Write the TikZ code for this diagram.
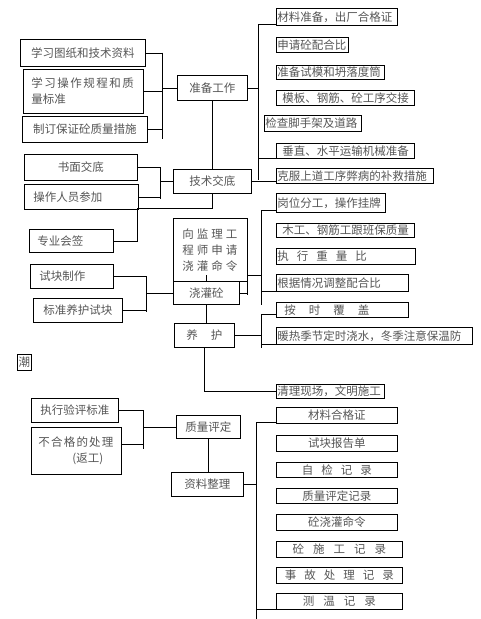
\documentclass[tikz,border=0pt]{standalone}
\usepackage{fontspec}
\newfontfamily\cjk{Noto Sans CJK SC}
\usepackage{xcolor}
\usepackage{tikz}
\definecolor{ink}{HTML}{000000}
\definecolor{txt}{HTML}{555555}
\newcommand{\chgap}[1]{\hspace{#1pt}}
\tikzset{
  box/.style  = {draw=ink, line width=0.9pt, rectangle, anchor=north west,
                 inner xsep=1pt, inner ysep=0pt, text=txt,
                 font=\cjk\fontsize{11.5}{16}\selectfont},
  rbox/.style = {box, align=left},
  link/.style = {draw=ink, line width=0.9pt},
}

\begin{document}
\begin{tikzpicture}[x=1pt, y=-1pt]
  \useasboundingbox (0,0) rectangle (480,619);

  % left column
  \node[box, minimum width=125pt, minimum height=27pt] (tz) at (20,39) {学习图纸和技术资料};
  \node[rbox, inner xsep=8pt, text width=104pt, minimum height=44pt] (cz) at (23,69)
    {学\chgap{1.5}习\chgap{1.5}操\chgap{1.5}作\chgap{1.5}规\chgap{1.5}程\chgap{1.5}和\chgap{1.5}质\\量标准};
  \node[box, minimum width=125pt, minimum height=26pt] (zd) at (22,116) {制订保证砼质量措施};
  \node[box, minimum width=113pt, minimum height=26pt] (sm) at (24,154) {书面交底};
  \node[rbox, inner xsep=9pt, text width=96pt, minimum height=25pt] (cr) at (24,184) {操作人员参加};
  \node[rbox, inner xsep=8pt, text width=68pt, minimum height=23pt] (zy) at (29,229) {专业会签};
  \node[rbox, inner xsep=9pt, text width=65pt, minimum height=24pt] (sk) at (30,264) {试块制作};
  \node[box, minimum width=89pt, minimum height=24pt] (bz) at (33,298) {标准养护试块};
  \node[box, minimum width=14pt, minimum height=16pt, inner xsep=0pt] (ch) at (17,354) {潮};
  \node[box, minimum width=87pt, minimum height=24pt] (zl) at (31,398) {执行验评标准};
  \node[rbox, inner xsep=7pt, text width=76pt, minimum height=47pt] (bh) at (31,427)
    {不\chgap{1.2}合\chgap{1.2}格\chgap{1.2}的\chgap{1.2}处\chgap{1.2}理\\\hspace*{34pt}(返工)};

  % middle column
  \node[box, minimum width=70pt, minimum height=25pt] (zb) at (177,75) {准备工作};
  \node[box, minimum width=78pt, minimum height=24pt] (js) at (173,169) {技术交底};
  \node[rbox, inner xsep=9pt, text width=56pt, minimum height=63pt] (xj) at (173,218)
    {向\chgap{3}监\chgap{3}理\chgap{3}工\\程\chgap{3}师\chgap{3}申\chgap{3}请\\浇\chgap{3}灌\chgap{3}命\chgap{3}令};
  \node[box, minimum width=66pt, minimum height=23pt] (jg) at (173,281) {浇灌砼};
  \node[box, minimum width=60pt, minimum height=24pt] (yh) at (174,323) {养\chgap{13}护};
  \node[box, minimum width=64pt, minimum height=23pt] (zp) at (176,415) {质量评定};
  \node[box, minimum width=72pt, minimum height=24pt] (zlz) at (171,472) {资料整理};

  % right column
  \node[rbox, text width=119pt, minimum height=17pt] (cl) at (276,8) {材料准备，出厂合格证};
  \node[rbox, text width=70pt, minimum height=15pt] (sq) at (276,37) {申请砼配合比};
  \node[rbox, text width=106pt, minimum height=14pt] (zm) at (276,65) {准备试模和坍落度筒};
  \node[rbox, text width=136pt, minimum height=15pt] (mb) at (276,90) {\hspace*{5pt}模板、钢筋、砼工序交接};
  \node[rbox, text width=95pt, minimum height=16pt] (jc) at (264,115) {检查脚手架及道路};
  \node[rbox, text width=136pt, minimum height=15pt] (cz2) at (276,143) {\hspace*{5pt}垂直、水平运输机械准备};
  \node[rbox, text width=155pt, minimum height=15pt] (kf) at (276,168) {克服上道工序弊病的补救措施};
  \node[rbox, text width=107pt, minimum height=19pt] (gw) at (276,193) {岗位分工，操作挂牌};
  \node[rbox, text width=136pt, minimum height=14pt] (mg) at (276,223) {\hspace*{5pt}木工、钢筋工跟班保质量};
  \node[rbox, text width=137pt, minimum height=16pt] (zx) at (276,248)
    {执\chgap{8}行\chgap{8}重\chgap{8}量\chgap{8}比};
  \node[rbox, text width=130pt, minimum height=17pt] (gj) at (276,274) {根据情况调整配合比};
  \node[rbox, text width=130pt, minimum height=15pt] (as) at (276,302)
    {\hspace*{7pt}按\chgap{13}时\chgap{13}覆\chgap{13}盖};
  \node[rbox, text width=194pt, minimum height=17pt] (nr) at (276,327) {暖热季节定时浇水，冬季注意保温防};
  \node[rbox, text width=106pt, minimum height=14pt] (ql) at (276,384) {清理现场，文明施工};

  \node[box, minimum width=121pt, minimum height=16pt] (hg) at (276,407) {材料合格证};
  \node[box, minimum width=121pt, minimum height=16pt] (sb) at (276,435) {试块报告单};
  \node[box, minimum width=121pt, minimum height=15pt] (zj) at (276,462)
    {自\chgap{8}检\chgap{8}记\chgap{8}录};
  \node[box, minimum width=121pt, minimum height=15pt] (zpj) at (276,488) {质量评定记录};
  \node[box, minimum width=121pt, minimum height=16pt] (jgm) at (276,514) {砼浇灌命令};
  \node[box, minimum width=126pt, minimum height=16pt] (sg) at (276,541)
    {砼\chgap{9}施\chgap{9}工\chgap{9}记\chgap{9}录};
  \node[box, minimum width=126pt, minimum height=16pt] (sc) at (276,567)
    {事\chgap{8}故\chgap{8}处\chgap{8}理\chgap{8}记\chgap{8}录};
  \node[box, minimum width=126pt, minimum height=16pt] (cw) at (276,593)
    {测\chgap{9}温\chgap{9}记\chgap{9}录};

  % bar ends
  \coordinate (zbT) at (162,52.5);
  \coordinate (zbB) at (162,139);
  \coordinate (zrT) at (258,24);
  \coordinate (zrB) at (258,180);
  \coordinate (jlT) at (160,167);
  \coordinate (jlB) at (160,199);
  \coordinate (zyT) at (137,208);
  \coordinate (gbT) at (247,275);
  \coordinate (gbB) at (247,295);
  \coordinate (grT) at (261,210);
  \coordinate (grB) at (261,305);
  \coordinate (slT) at (146,276);
  \coordinate (slB) at (146,312);
  \coordinate (yrT) at (261,314);
  \coordinate (yrB) at (261,348);
  \coordinate (plT) at (143,410);
  \coordinate (plB) at (143,449);
  \coordinate (rrT) at (256,422);
  \coordinate (rrB) at (256,619);

  % preparation
  \draw[link] (zbT) -- (zbB);
  \draw[link] (tz.east) -- (tz.east -| zbT);
  \draw[link] (cz.east) -- (cz.east -| zbT);
  \draw[link] (zd.east) -- (zd.east -| zbT);
  \draw[link] (zbT |- zb.west) -- (zb.west);
  \draw[link] (zrT) -- (zrB);
  \draw[link] (zb.east) -- (zb.east -| zrT);
  \draw[link] (zrT) -- (zrT -| cl.west);
  \draw[link] (cz2.south west) -- (cz2.south west -| zrT);
  \draw[link] (zb.south) -- (zb.south |- js.north);

  % briefing
  \draw[link] (jlT) -- (jlB);
  \draw[link] (sm.east) -- (sm.east -| jlT);
  \draw[link] (cr.east) -- (cr.east -| jlT);
  \draw[link] (jlT |- js.west) -- (js.west);
  \draw[link] (js.east) -- (js.east -| kf.west);
  \draw[link] (js.south) -- (js.south |- zyT) -- (zyT) -- (zyT |- zy.east) -- (zy.east);

  % pouring
  \draw[link] (jg.north) -- ([yshift=6pt]jg.north);
  \draw[link] (gbT) -- (gbB);
  \draw[link] (jg.east) -- (jg.east -| gbT);
  \draw[link] (grT) -- (grB);
  \draw[link] (gbT) -- (gbT -| grT);
  \draw[link] (grT) -- (grT -| gw.west);
  \draw[link] (gj.south west) -- (gj.south west -| grT);
  \draw[link] (slT) -- (slB);
  \draw[link] (sk.east) -- (sk.east -| slT);
  \draw[link] (bz.east) -- (bz.east -| slT);
  \draw[link] (slT |- jg.west) -- (jg.west);
  \draw[link] (jg.south) -- (jg.south |- yh.north);

  % curing
  \draw[link] (yrT) -- (yrB);
  \draw[link] (yh.east) -- (yh.east -| yrT);
  \draw[link] (yrT) -- (yrT -| as.west);
  \draw[link] (nr.south west) -- (nr.south west -| yrT);
  \draw[link] (yh.south) |- (ql.west);

  % assessment and records
  \draw[link] (plT) -- (plB);
  \draw[link] (zl.east) -- (zl.east -| plT);
  \draw[link] ([yshift=7pt]bh.east) -- ([yshift=7pt]bh.east -| plT);
  \draw[link] (plT |- zp.west) -- (zp.west);
  \draw[link] (zp.south) -- (zp.south |- zlz.north);
  \draw[link] (rrT) -- (rrB);
  \draw[link] (zlz.east) -- (zlz.east -| rrT);
  \draw[link] (rrT) -- (rrT -| hg.west);
  \draw[link] (cw.south west) -- (cw.south west -| rrT);
\end{tikzpicture}
\end{document}
